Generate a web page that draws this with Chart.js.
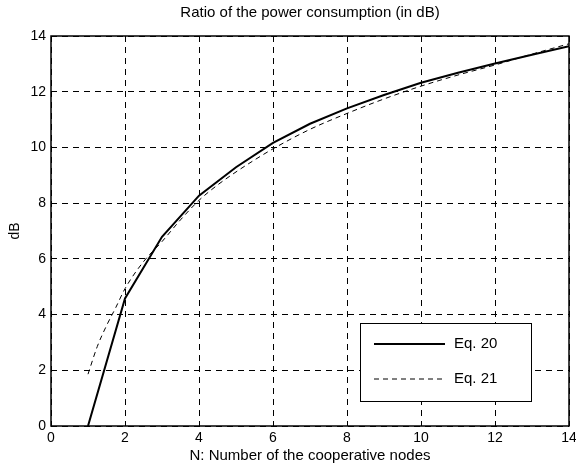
<!DOCTYPE html>
<html>
<head>
<meta charset="utf-8">
<script src="https://cdn.jsdelivr.net/npm/chart.js@4.4.1/dist/chart.umd.min.js"></script>
<style>
  html, body { margin: 0; padding: 0; background: #fff; }
  #wrap { width: 576px; height: 466px; }
</style>
</head>
<body>
<div id="wrap"><canvas id="ratio-chart"></canvas></div>
<script>
  'use strict';

  // Eq. 20 is only known at integer node counts
  const nodesEq20 = [1, 2, 3, 4, 5, 6, 7, 8, 9, 10, 11, 12, 13, 14];
  const eq20Values = [0, 4.58, 6.79, 8.27, 9.29, 10.16, 10.85, 11.40, 11.88, 12.32, 12.68, 13.01, 13.33, 13.63];

  // Eq. 21 is drawn as a smooth curve
  const nodesEq21 = [1, 1.25, 1.5, 1.75, 2, 2.5, 3, 3.5, 4, 4.5, 5, 5.5, 6, 7, 8, 9, 10, 11, 12, 13, 14];
  const eq21Values = [1.86, 2.85, 3.6, 4.25, 4.93, 5.9, 6.62, 7.4, 8.1, 8.65, 9.12, 9.55, 9.95, 10.65, 11.22, 11.74, 12.2, 12.6, 12.96, 13.35, 13.72];

  const xTicks = [0, 2, 4, 6, 8, 10, 12, 14];
  const yTicks = [0, 2, 4, 6, 8, 10, 12, 14];

  const seriesLabels = ['Eq. 20', 'Eq. 21'];
  const chartTitle = 'Ratio of the power consumption (in dB)';

  const FONT = '"Liberation Sans", Arial, sans-serif';

  function toPoints(xs, ys) {
    return xs.map((x, i) => ({ x: x, y: ys[i] }));
  }

  // title centred over the plot, not the whole canvas
  const plotTitle = {
    id: 'plotTitle',
    afterDraw(chart) {
      const a = chart.chartArea;
      const ctx = chart.ctx;
      ctx.save();
      ctx.font = '15px ' + FONT;
      ctx.fillStyle = '#000';
      ctx.textAlign = 'center';
      ctx.textBaseline = 'middle';
      ctx.fillText(chartTitle, (a.left + a.right) / 2, a.top - 23);
      ctx.restore();
    }
  };

  // black frame round the plot, like the matlab axes box
  const frameBox = {
    id: 'frameBox',
    afterDatasetsDraw(chart) {
      const a = chart.chartArea;
      const ctx = chart.ctx;
      ctx.save();
      ctx.strokeStyle = '#000';
      ctx.lineWidth = 1.5;
      ctx.strokeRect(a.left, a.top, a.right - a.left, a.bottom - a.top);
      ctx.restore();
    }
  };

  // boxed legend sitting inside the plot, lower right
  const insideLegend = {
    id: 'insideLegend',
    afterDraw(chart) {
      const a = chart.chartArea;
      const ctx = chart.ctx;
      const w = 171, h = 78;
      const x0 = a.right - 38 - w;
      const y0 = a.bottom - 103;
      ctx.save();
      ctx.fillStyle = '#fff';
      ctx.fillRect(x0, y0, w, h);
      ctx.strokeStyle = '#000';
      ctx.lineWidth = 1;
      ctx.strokeRect(x0 + 0.5, y0 + 0.5, w, h);
      ctx.font = '15px ' + FONT;
      ctx.textBaseline = 'middle';
      chart.data.datasets.forEach((ds, i) => {
        const yy = y0 + 21 + i * 35;
        ctx.beginPath();
        ctx.strokeStyle = ds.borderColor;
        ctx.lineWidth = ds.borderWidth;
        ctx.setLineDash(ds.borderDash || []);
        ctx.moveTo(x0 + 14, yy);
        ctx.lineTo(x0 + 85, yy);
        ctx.stroke();
        ctx.setLineDash([]);
        ctx.fillStyle = '#000';
        ctx.fillText(ds.label, x0 + 94, yy);
      });
      ctx.restore();
    }
  };

  const gridOpts = {
    color: '#000',
    lineWidth: 1,
    drawTicks: false
  };

  new Chart(document.getElementById('ratio-chart'), {
    type: 'line',
    data: {
      datasets: [
        {
          label: seriesLabels[0],
          data: toPoints(nodesEq20, eq20Values),
          borderColor: '#000',
          borderWidth: 2,
          pointRadius: 0,
          tension: 0
        },
        {
          label: seriesLabels[1],
          data: toPoints(nodesEq21, eq21Values),
          borderColor: '#000',
          borderWidth: 1,
          borderDash: [5, 4],
          pointRadius: 0,
          cubicInterpolationMode: 'monotone'
        }
      ]
    },
    options: {
      responsive: true,
      maintainAspectRatio: false,
      animation: false,
      layout: { padding: { left: 0, right: 7, top: 36, bottom: 0 } },
      plugins: {
        legend: { display: false },
        tooltip: { enabled: false },
        title: { display: false }
      },
      scales: {
        x: {
          type: 'linear',
          min: 0,
          max: 14,
          afterBuildTicks(scale) {
            scale.ticks = xTicks.map(v => ({ value: v }));
          },
          afterFit(scale) {
            scale.height = 40;
            // let the last label run off the edge, as in the original
            scale.paddingLeft = 0;
            scale.paddingRight = 0;
          },
          grid: gridOpts,
          border: { display: false, dash: [6, 5] },
          ticks: {
            color: '#000',
            padding: 4,
            maxRotation: 0,
            font: { family: FONT, size: 14 }
          },
          title: {
            display: true,
            text: 'N: Number of the cooperative nodes',
            color: '#000',
            padding: { top: 0, bottom: 1 },
            font: { family: FONT, size: 15 }
          }
        },
        y: {
          type: 'linear',
          min: 0,
          max: 14,
          afterBuildTicks(scale) {
            scale.ticks = yTicks.map(v => ({ value: v }));
          },
          afterFit(scale) {
            scale.width = 51;
            scale.paddingTop = 0;
            scale.paddingBottom = 0;
          },
          grid: gridOpts,
          border: { display: false, dash: [6, 5] },
          ticks: {
            color: '#000',
            padding: 5,
            font: { family: FONT, size: 14 }
          },
          title: {
            display: true,
            text: 'dB',
            color: '#000',
            padding: { top: 7, bottom: 0 },
            font: { family: FONT, size: 14 }
          }
        }
      }
    },
    plugins: [plotTitle, frameBox, insideLegend]
  });
</script>
</body>
</html>
